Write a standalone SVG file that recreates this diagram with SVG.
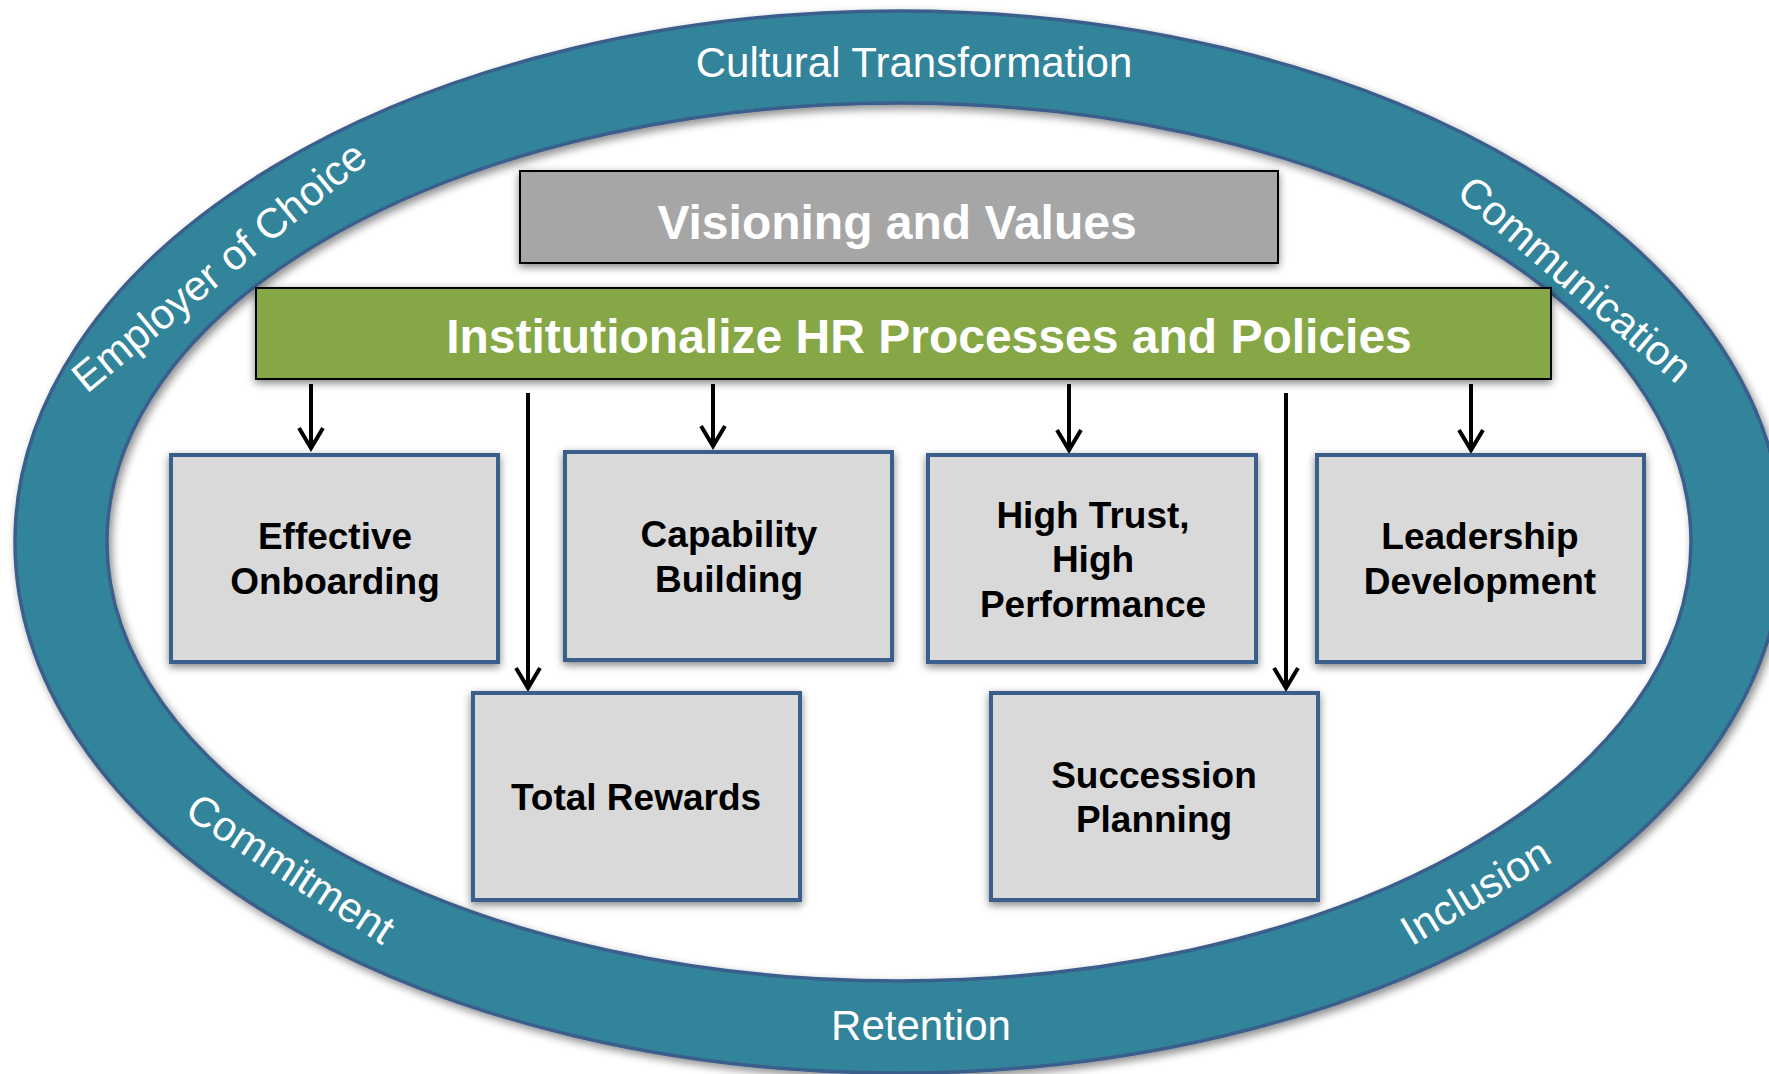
<svg xmlns="http://www.w3.org/2000/svg" width="1769" height="1074" viewBox="0 0 1769 1074">
  <defs>
    <filter id="shadow" x="-10%" y="-10%" width="120%" height="120%">
      <feGaussianBlur in="SourceAlpha" stdDeviation="4"/>
      <feOffset dx="3" dy="4" result="blur"/>
      <feComponentTransfer><feFuncA type="linear" slope="0.45"/></feComponentTransfer>
      <feMerge><feMergeNode/><feMergeNode in="SourceGraphic"/></feMerge>
    </filter>
    <filter id="soft" x="-5%" y="-20%" width="110%" height="140%">
      <feGaussianBlur in="SourceAlpha" stdDeviation="4"/>
      <feOffset dx="0" dy="3" result="blur"/>
      <feComponentTransfer><feFuncA type="linear" slope="0.5"/></feComponentTransfer>
      <feMerge><feMergeNode/><feMergeNode in="SourceGraphic"/></feMerge>
    </filter>
    <marker id="head" markerUnits="userSpaceOnUse" markerWidth="32" markerHeight="32" viewBox="-26 -16 32 32" refX="0" refY="0" orient="auto" overflow="visible">
      <path d="M -20 -12 L 0 0 L -20 12" fill="none" stroke="#000" stroke-width="4" stroke-linejoin="miter"/>
    </marker>
    <style>
      .ringtxt { font-family: "Liberation Sans", Arial, sans-serif; font-size: 42px; fill: #fff; }
      .band { fill: #31849B; fill-rule: evenodd; stroke: #3B5E8C; stroke-width: 3.5; }
      .box { fill: #D9D9D9; stroke: #3A5F8D; stroke-width: 4; }
      .lbl { font-family: "Liberation Sans", Arial, sans-serif; font-weight: bold; font-size: 37px; fill: #000; text-anchor: middle; }
      .bar { stroke: #000; stroke-width: 2; }
      .bartxt { font-family: "Liberation Sans", Arial, sans-serif; font-weight: bold; fill: #fff; text-anchor: middle; }
      .conn { stroke: #000; stroke-width: 4; fill: none; }
    </style>
  </defs>
  <rect width="1769" height="1074" fill="#fff"/>

  <!-- outer ring with its value words -->
  <g id="ring">
    <path class="band" filter="url(#shadow)" d="M 15 542 A 884 531 0 1 0 1783 542 A 884 531 0 1 0 15 542 Z M 107 542 A 792 439 0 1 0 1691 542 A 792 439 0 1 0 107 542 Z"/>
    <text class="ringtxt" x="914" y="77" text-anchor="middle">Cultural Transformation</text>
    <text class="ringtxt" x="921" y="1040" text-anchor="middle">Retention</text>
    <text class="ringtxt" text-anchor="middle" font-size="41" transform="translate(221.5 269.5) rotate(-39.5)" y="10.5">Employer of Choice</text>
    <text class="ringtxt" text-anchor="middle" transform="translate(1575.5 278.5) rotate(40.5)" y="15">Communication</text>
    <text class="ringtxt" text-anchor="middle" transform="translate(291 868) rotate(33)" y="15">Commitment</text>
    <text class="ringtxt" text-anchor="middle" transform="translate(1475 891) rotate(-31)" y="15">Inclusion</text>
  </g>

  <g id="visioning">
    <rect class="bar" x="520" y="171" width="758" height="92" fill="#A6A6A6" filter="url(#soft)"/>
    <text class="bartxt" x="897" y="239" font-size="48">Visioning and Values</text>
  </g>

  <g id="institutionalize">
    <rect class="bar" x="256" y="288" width="1295" height="91" fill="#86A744" filter="url(#soft)"/>
    <text class="bartxt" x="929" y="353" font-size="48">Institutionalize HR Processes and Policies</text>
  </g>

  <!-- connectors from the policies bar down to each practice -->
  <g id="connectors">
    <path class="conn" d="M 311 384 L 311 448" marker-end="url(#head)"/>
    <path class="conn" d="M 528 393 L 528 688" marker-end="url(#head)"/>
    <path class="conn" d="M 713 384 L 713 446" marker-end="url(#head)"/>
    <path class="conn" d="M 1069 384 L 1069 450" marker-end="url(#head)"/>
    <path class="conn" d="M 1286 393 L 1286 688" marker-end="url(#head)"/>
    <path class="conn" d="M 1471 384 L 1471 450" marker-end="url(#head)"/>
  </g>

  <g id="onboarding">
    <rect class="box" x="171" y="455" width="327" height="207" filter="url(#soft)"/>
    <text class="lbl" x="335" y="549">Effective</text>
    <text class="lbl" x="335" y="593.5">Onboarding</text>
  </g>

  <g id="capability">
    <rect class="box" x="565" y="452" width="327" height="208" filter="url(#soft)"/>
    <text class="lbl" x="729" y="547">Capability</text>
    <text class="lbl" x="729" y="591.5">Building</text>
  </g>

  <g id="high-trust">
    <rect class="box" x="928" y="455" width="328" height="207" filter="url(#soft)"/>
    <text class="lbl" x="1093" y="527.5">High Trust,</text>
    <text class="lbl" x="1093" y="572">High</text>
    <text class="lbl" x="1093" y="616.5">Performance</text>
  </g>

  <g id="leadership">
    <rect class="box" x="1317" y="455" width="327" height="207" filter="url(#soft)"/>
    <text class="lbl" x="1480" y="549">Leadership</text>
    <text class="lbl" x="1480" y="593.5">Development</text>
  </g>

  <g id="rewards">
    <rect class="box" x="473" y="693" width="327" height="207" filter="url(#soft)"/>
    <text class="lbl" x="636" y="809.5">Total Rewards</text>
  </g>

  <g id="succession">
    <rect class="box" x="991" y="693" width="327" height="207" filter="url(#soft)"/>
    <text class="lbl" x="1154" y="787.5">Succession</text>
    <text class="lbl" x="1154" y="832">Planning</text>
  </g>
</svg>
